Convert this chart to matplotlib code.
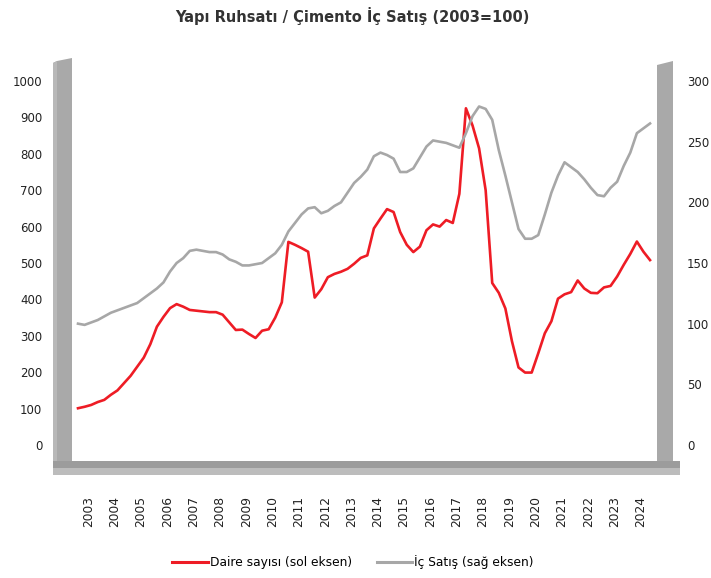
import matplotlib

matplotlib.use("Agg")
import matplotlib.pyplot as plt
from matplotlib.patches import Polygon

W, H = 711, 578

# quarterly data, 2003Q1 .. 2024Q4
years = list(range(2003, 2025))
daire = [101, 105, 110, 118, 124, 138, 150, 170, 190, 215, 240, 277,
         325, 352, 376, 387, 380, 371, 369, 367, 365, 365, 358, 337,
         316, 317, 305, 294, 314, 318, 350, 392, 558, 550, 541, 531,
         405, 428, 461, 470, 476, 484, 498, 514, 521, 595, 622, 648,
         640, 585, 550, 530, 545, 590, 606, 600, 618, 610, 690, 925,
         878, 815, 700, 445, 418, 375, 285, 213, 199, 199, 252, 307,
         340, 402, 414, 420, 452, 430, 418, 417, 433, 437, 463, 495,
         525, 559, 531, 508]
ic_satis = [100, 99, 101, 103, 106, 109, 111, 113, 115, 117, 121, 125,
            129, 134, 143, 150, 154, 160, 161, 160, 159, 159, 157, 153,
            151, 148, 148, 149, 150, 154, 158, 165, 176, 183, 190, 195,
            196, 191, 193, 197, 200, 208, 216, 221, 227, 238, 241, 239,
            236, 225, 225, 228, 237, 246, 251, 250, 249, 247, 245, 257,
            271, 279, 277, 268, 243, 222, 200, 178, 170, 170, 173, 190,
            208, 222, 233, 229, 225, 219, 212, 206, 205, 212, 217, 230,
            241, 257, 261, 265]
left_ticks = list(range(0, 1001, 100))
right_ticks = list(range(0, 301, 50))

RED = "#ee1c25"
GREY = "#a7a7a7"
TXT = "#222222"


def fx(x):
    return x / W


def fy(y):
    return 1 - y / H


def poly(fig, pts, color):
    fig.patches.append(Polygon([(fx(x), fy(y)) for x, y in pts], closed=True,
                               transform=fig.transFigure, facecolor=color,
                               edgecolor="none", zorder=0))


fig = plt.figure(figsize=(W / 100, H / 100), dpi=100)

# plot box in pixels: x 72..657, y 60..461
x0, x1, y0, y1 = 72, 657, 60, 461
ax = fig.add_axes([fx(x0), fy(y1), (x1 - x0) / W, (y1 - y0) / H])
ax.patch.set_alpha(0)

# 3d-ish walls and floor
poly(fig, [(53, 461), (53, 63), (57, 61), (72, 58), (72, 461)], "#a9a9a9")
poly(fig, [(53, 473), (53, 63), (57, 61), (57, 473)], "#b8b8b8")
poly(fig, [(657, 473), (657, 65), (673, 61), (673, 473)], "#a9a9a9")
poly(fig, [(53, 461), (680, 461), (680, 468), (53, 468)], "#9c9c9c")
poly(fig, [(53, 468), (680, 468), (680, 475), (53, 475)], "#bcbcbc")

q = list(range(len(daire)))
px_per_q = 6.575
ax.set_xlim((x0 - 78) / px_per_q, (x1 - 78) / px_per_q)
ax.set_ylim((445 - y1) / 0.364, (445 - y0) / 0.364)
ax.plot(q, daire, color=RED, lw=1.9, solid_joinstyle="round", zorder=3)

ax2 = ax.twinx()
ax2.set_ylim((445 - y1) / 1.2133, (445 - y0) / 1.2133)
ax2.plot(q, ic_satis, color=GREY, lw=1.9, solid_joinstyle="round", zorder=2)

for a in (ax, ax2):
    for s in a.spines.values():
        s.set_visible(False)
    a.tick_params(length=0, labelsize=8.5, colors=TXT)

ax.set_yticks(left_ticks)
ax.set_yticklabels([str(v) for v in left_ticks])
ax.tick_params(axis="y", pad=21.5)
ax2.set_yticks(right_ticks)
ax2.set_yticklabels([str(v) for v in right_ticks])
ax2.tick_params(axis="y", pad=21.5)

ax.set_xticks([4 * i + 1.6 for i in range(len(years))])
ax.set_xticklabels([str(y) for y in years], rotation=90, fontsize=8.8)
ax.tick_params(axis="x", pad=25)

fig.text(fx(352), fy(16), "Yapı Ruhsatı / Çimento İç Satış (2003=100)",
         ha="center", va="center", fontsize=10.5, fontweight="bold",
         color="#333333")

h1, = ax.plot([], [], color=RED, lw=2.2)
h2, = ax.plot([], [], color=GREY, lw=2.2)
fig.legend([h1, h2], ["Daire sayısı (sol eksen)", "İç Satış (sağ eksen)"],
           loc="center", bbox_to_anchor=(fx(353), fy(562)), ncol=2,
           frameon=False, fontsize=8.8, handlelength=2.9, handletextpad=0.2,
           columnspacing=2.0)

fig.savefig("out.png", dpi=100)
